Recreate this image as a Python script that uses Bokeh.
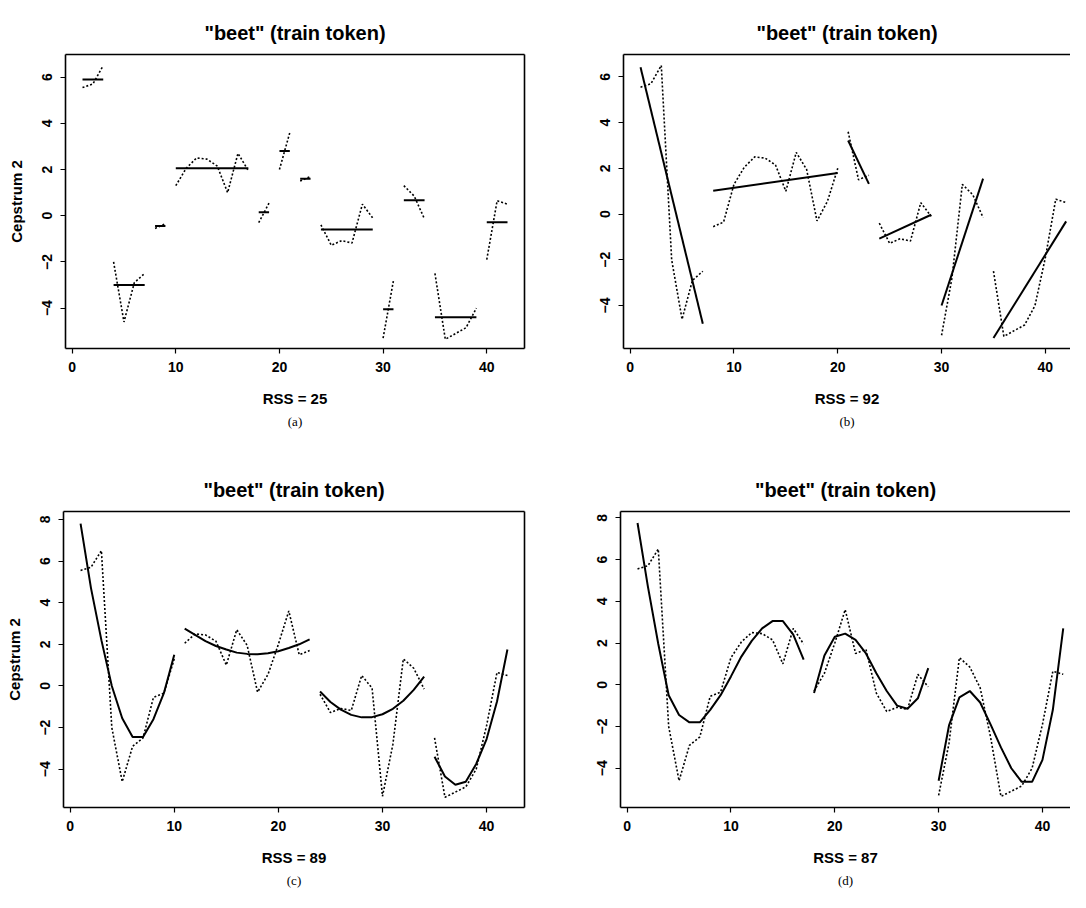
from bokeh.plotting import figure
from bokeh.models import Range1d, FixedTicker, LinearAxis, Title
from bokeh.layouts import column, row
from bokeh.embed import file_html
from bokeh.resources import INLINE

# ---------------- data ----------------
frames = list(range(1, 43))
cepstrum2 = [5.55, 5.7, 6.5, -2.0, -4.6, -2.9, -2.5, -0.55, -0.35, 1.3,
             2.05, 2.5, 2.45, 2.15, 1.0, 2.7, 1.95, -0.3, 0.55, 2.0,
             3.6, 1.5, 1.7, -0.4, -1.28, -1.08, -1.18, 0.5, -0.1, -5.3,
             -2.8, 1.3, 0.85, -0.15, -2.5, -5.35, -5.1, -4.85, -4.0, -1.9,
             0.65, 0.5]

# (a) piecewise-constant fit
seg_a_start = [1, 4, 8, 10, 18, 20, 22, 24, 30, 32, 35, 40]
seg_a_end = [3, 7, 9, 17, 19, 21, 23, 29, 31, 34, 39, 42]
level_a = [5.9, -3.0, -0.45, 2.05, 0.15, 2.8, 1.6, -0.6, -4.05, 0.67, -4.4, -0.28]

# (b) piecewise-linear fit
seg_b_start = [1, 8, 21, 24, 30, 35]
seg_b_end = [7, 20, 23, 29, 34, 42]
line_b_first = [6.42, 1.02, 3.22, -1.07, -4.0, -5.42]
line_b_last = [-4.8, 1.8, 1.32, -0.03, 1.55, -0.32]

# (c) quadratic segments
seg_c_start = [1, 11, 24, 35]
seg_c_end = [10, 23, 34, 42]
fit_c = [7.8, 4.7, 2.2, 0.0, -1.55, -2.45, -2.45, -1.6, -0.35, 1.5,
         2.75, 2.45, 2.15, 1.92, 1.75, 1.6, 1.54, 1.52, 1.57, 1.67, 1.82, 2.0, 2.24,
         -0.27, -0.77, -1.14, -1.39, -1.51, -1.5, -1.36, -1.1, -0.71, -0.19, 0.45,
         -3.4, -4.35, -4.75, -4.6, -3.75, -2.55, -0.75, 1.75]

# (d) cubic segments
seg_d_start = [1, 18, 30]
seg_d_end = [17, 29, 42]
fit_d = [7.75, 4.7, 1.95, -0.5, -1.45, -1.8, -1.8, -1.2, -0.5, 0.4, 1.35, 2.1, 2.7, 3.05, 3.05, 2.4, 1.2,
         -0.4, 1.4, 2.3, 2.45, 2.15, 1.5, 0.55, -0.3, -1.0, -1.15, -0.65, 0.8,
         -4.6, -1.95, -0.6, -0.3, -0.85, -1.9, -3.0, -4.0, -4.65, -4.65, -3.6, -1.2, 2.7]

x_ticks = [0, 10, 20, 30, 40]
y_ticks_top = [-4, -2, 0, 2, 4, 6]
y_ticks_bottom = [-4, -2, 0, 2, 4, 6, 8]
rss_labels = ["RSS = 25", "RSS = 92", "RSS = 89", "RSS = 87"]
captions = ["(a)", "(b)", "(c)", "(d)"]
title_text = '"beet" (train token)'
y_label = "Cepstrum 2"

SANS = "Liberation Sans"
SERIF = "Liberation Serif"


def split(xs, ys, starts, ends):
    mx, my = [], []
    for s, e in zip(starts, ends):
        idx = [i for i, x in enumerate(xs) if s <= x <= e]
        mx.append([xs[i] for i in idx])
        my.append([ys[i] for i in idx])
    return mx, my


def frame_axis():
    return LinearAxis(ticker=FixedTicker(ticks=[]), major_tick_line_color=None,
                      minor_tick_line_color=None, major_label_text_font_size="0px",
                      axis_line_width=1.6, axis_line_color="black",
                      major_tick_out=0, major_tick_in=0, major_label_standoff=0)


def panel(idx, width, height, bl, br, bt, bb, xr, yr, yticks, with_ylabel, with_right):
    p = figure(width=width, height=height, x_range=Range1d(*xr), y_range=Range1d(*yr),
               output_backend="svg", toolbar_location=None,
               min_border_left=bl, min_border_right=br, min_border_top=bt, min_border_bottom=bb)
    p.outline_line_color = None
    p.xgrid.visible = False
    p.ygrid.visible = False
    p.title.text = title_text
    p.title.align = "center"
    p.title.text_font = SANS
    p.title.text_font_size = "20px"
    p.title.text_font_style = "bold"
    p.title.text_color = "black"
    p.title.standoff = 22

    for ax in (p.xaxis[0], p.yaxis[0]):
        ax.axis_line_width = 1.6
        ax.axis_line_color = "black"
        ax.major_tick_line_color = "black"
        ax.major_tick_line_width = 1.2
        ax.major_tick_out = 5
        ax.major_tick_in = 0
        ax.minor_tick_line_color = None
        ax.major_label_text_font = SANS
        ax.major_label_text_font_style = "bold"
        ax.major_label_text_font_size = "14px"
        ax.major_label_text_color = "black"
        ax.major_label_standoff = 8
        ax.axis_label_text_font = SANS
        ax.axis_label_text_font_style = "bold"
        ax.axis_label_text_font_size = "15px"
        ax.axis_label_text_color = "black"
        ax.axis_label_standoff = 15
    p.xaxis.ticker = FixedTicker(ticks=x_ticks)
    p.yaxis.ticker = FixedTicker(ticks=yticks)
    p.yaxis.major_label_orientation = "parallel"
    p.xaxis.axis_label = rss_labels[idx]
    if with_ylabel:
        p.yaxis.axis_label = y_label

    p.add_layout(frame_axis(), "above")
    if with_right:
        p.add_layout(frame_axis(), "right")

    p.add_layout(Title(text=captions[idx], align="center", text_font=SERIF,
                       text_font_size="13px", text_font_style="normal",
                       text_color="black", standoff=5), "below")
    return p


def dotted(p, starts, ends):
    xs, ys = split(frames, cepstrum2, starts, ends)
    p.multi_line(xs, ys, line_color="black", line_width=1.6, line_dash="2 2")


# (a)
pa = panel(0, 572, 447, 65, 48, 54, 99, (-0.64, 43.64), (-5.75, 6.98), y_ticks_top, True, True)
dotted(pa, seg_a_start, seg_a_end)
pa.segment(x0=seg_a_start, x1=seg_a_end, y0=level_a, y1=level_a, line_color="black", line_width=2)

# (b)
pb = panel(1, 498, 447, 51, 0, 54, 98, (-0.64, 42.42), (-5.88, 6.98), y_ticks_top, False, False)
dotted(pb, seg_b_start, seg_b_end)
pb.segment(x0=seg_b_start, x1=seg_b_end, y0=line_b_first, y1=line_b_last, line_color="black", line_width=2)

# (c)
pc = panel(2, 572, 445, 63, 48, 64, 85, (-0.64, 43.64), (-5.84, 8.38), y_ticks_bottom, True, True)
dotted(pc, seg_c_start, seg_c_end)
cx, cy = split(frames, fit_c, seg_c_start, seg_c_end)
pc.multi_line(cx, cy, line_color="black", line_width=2)

# (d)
pd_ = panel(3, 498, 445, 48, 0, 62, 85, (-0.64, 42.7), (-5.88, 8.3), y_ticks_bottom, False, False)
dotted(pd_, seg_d_start, seg_d_end)
dx, dy = split(frames, fit_d, seg_d_start, seg_d_end)
pd_.multi_line(dx, dy, line_color="black", line_width=2)

layout = column(row(pa, pb), row(pc, pd_))
open("out.html", "w").write(file_html(layout, INLINE))
